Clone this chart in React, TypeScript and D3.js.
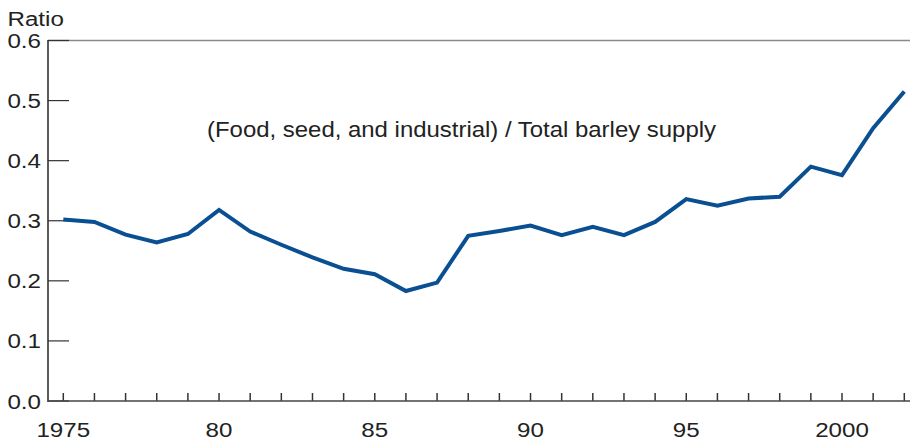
import React from "react";
import * as d3 from "d3";

const years: number[] = [1975,1976,1977,1978,1979,1980,1981,1982,1983,1984,1985,1986,1987,1988,1989,1990,1991,1992,1993,1994,1995,1996,1997,1998,1999,2000,2001,2002];
const ratio: number[] = [0.302,0.298,0.277,0.264,0.278,0.318,0.282,0.260,0.239,0.220,0.211,0.183,0.197,0.275,0.283,0.292,0.276,0.290,0.276,0.298,0.336,0.325,0.337,0.340,0.390,0.376,0.454,0.515];
const yTicks: number[] = [0, 0.1, 0.2, 0.3, 0.4, 0.5, 0.6];
const xLabels: { year: number; label: string }[] = [
  { year: 1975, label: "1975" },
  { year: 1980, label: "80" },
  { year: 1985, label: "85" },
  { year: 1990, label: "90" },
  { year: 1995, label: "95" },
  { year: 2000, label: "2000" },
];
const annotation = "(Food, seed, and industrial) / Total barley supply";
const yTitle = "Ratio";

const W = 910;
const H = 441;
const FONT = "'Liberation Sans', Arial, Helvetica, sans-serif";
const SX = 1.15;

function T({ x, y, anchor = "start", size = 21, children, fill = "#222", len }: any) {
  return (
    <text
      transform={`translate(${x},${y}) scale(${len ? 1 : SX},1)`}
      textAnchor={anchor}
      fontSize={size}
      fontFamily={FONT}
      fill={fill}
      textLength={len}
      lengthAdjust={len ? "spacingAndGlyphs" : undefined}
    >
      {children}
    </text>
  );
}

export default function App() {
  const axisLeft = 48;
  const x = d3.scaleLinear().domain([1975, 2002]).range([63.3, 904.3]);
  const y = d3.scaleLinear().domain([0, 0.6]).range([401, 40.5]);
  const line = d3
    .line<number>()
    .x((_, i) => x(years[i]))
    .y((d) => y(d));

  return (
    <svg
      width={W}
      height={H}
      style={{ position: "absolute", left: 0, top: 0, background: "#fff" }}
    >
      <line x1={axisLeft} x2={W} y1={y(0.6)} y2={y(0.6)} stroke="#8a8a8a" strokeWidth={1.3} />
      {yTicks.map((t) => (
        <g key={t}>
          <line x1={axisLeft} x2={69} y1={y(t)} y2={y(t)} stroke="#333" strokeWidth={1.2} />
          <T x={41} y={y(t) + 7.5} anchor="end">
            {t.toFixed(1)}
          </T>
        </g>
      ))}
      <T x={7.5} y={26}>{yTitle}</T>
      {years.map((yr) => (
        <line key={yr} x1={x(yr)} x2={x(yr)} y1={y(0)} y2={y(0) - 8} stroke="#333" strokeWidth={1.5} />
      ))}
      {xLabels.map((d) => (
        <T key={d.year} x={x(d.year)} y={437} anchor="middle">
          {d.label}
        </T>
      ))}
      <line x1={axisLeft} x2={axisLeft} y1={y(0.6) - 0.5} y2={y(0) + 1} stroke="#333" strokeWidth={1.6} />
      <line x1={axisLeft} x2={W} y1={y(0)} y2={y(0)} stroke="#444" strokeWidth={1.6} />
      <T x={207} y={137} size={21.5} len={509}>{annotation}</T>
      <path d={line(ratio) || ""} fill="none" stroke="#0a4f92" strokeWidth={4} strokeLinejoin="miter" strokeLinecap="butt" />
    </svg>
  );
}
